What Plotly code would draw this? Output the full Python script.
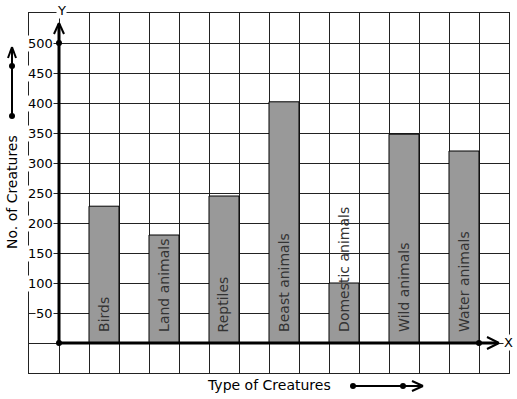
import plotly.graph_objects as go

categories = ["Birds", "Land animals", "Reptiles", "Beast animals",
              "Domestic animals", "Wild animals", "Water animals"]
values = [228, 180, 245, 402, 100, 348, 320]
positions = [1.5, 3.5, 5.5, 7.5, 9.5, 11.5, 13.5]
ytick_vals = [50, 100, 150, 200, 250, 300, 350, 400, 450, 500]
ytick_text = ["50", "100", "150", "200", "250", "300", "350", "400", "450", "500"]

W, H = 517, 399
L, R, T, B = 29, 8, 13, 26
PW, PH = W - L - R, H - T - B
FONT = "DejaVu Sans"


def px(x):
    return (x - L) / PW


def py(y):
    return (H - B - y) / PH


fig = go.Figure()
fig.add_trace(go.Bar(
    x=positions, y=values, width=1,
    marker=dict(color="#999999", line=dict(color="#000000", width=1)),
    hoverinfo="skip", showlegend=False,
))

shapes = []
annotations = []

# axes (bold)
shapes.append(dict(type="line", xref="x", yref="y", x0=0, y0=0, x1=14.63, y1=0,
                   line=dict(color="black", width=3), layer="above"))
shapes.append(dict(type="line", xref="x", yref="y", x0=0, y0=0, x1=0, y1=532,
                   line=dict(color="black", width=3), layer="above"))


def vline(x0, y0, x1, y1, w=2):
    shapes.append(dict(type="line", xref="paper", yref="paper",
                       x0=px(x0), y0=py(y0), x1=px(x1), y1=py(y1),
                       line=dict(color="black", width=w), layer="above"))


def dot(cx, cy, r=3):
    shapes.append(dict(type="circle", xref="paper", yref="paper",
                       x0=px(cx - r), x1=px(cx + r), y0=py(cy - r), y1=py(cy + r),
                       fillcolor="black", line=dict(color="black", width=0),
                       layer="above"))


# x-axis arrow head
vline(487, 337, 499, 343)
vline(487, 349, 499, 343)
# y-axis arrow head
vline(54, 34, 59, 23)
vline(64, 34, 59, 23)
# axis dots
dot(59, 343)
dot(59, 43)
dot(479, 343)

# y-title arrow
vline(12, 116, 12, 48)
vline(8, 58, 12, 47)
vline(16, 58, 12, 47)
dot(12, 116)
dot(12, 66)

# x-title arrow
vline(353, 386, 422, 386)
vline(412, 381, 423, 386)
vline(412, 391, 423, 386)
dot(353, 386)
dot(403, 386)

# tick labels
for v, t in zip(ytick_vals, ytick_text):
    annotations.append(dict(xref="x", yref="y", x=-0.17, y=v, text=t,
                            xanchor="right", yanchor="middle", showarrow=False,
                            bgcolor="white", borderpad=0,
                            font=dict(family=FONT, size=13, color="black")))

# bar labels
for xc, name in zip(positions, categories):
    annotations.append(dict(xref="x", yref="y", x=xc - 0.02, y=15, text=name,
                            textangle=-90, xanchor="center", yanchor="bottom",
                            showarrow=False,
                            font=dict(family=FONT, size=14, color="#333333")))


def label(xp, yp, text, angle=0, bg=None, size=14):
    d = dict(xref="paper", yref="paper", x=px(xp), y=py(yp), text=text,
             xanchor="center", yanchor="middle", showarrow=False,
             textangle=angle, borderpad=0,
             font=dict(family=FONT, size=size, color="black"))
    if bg:
        d["bgcolor"] = bg
    annotations.append(d)


label(61, 10, "Y", bg="white", size=13)
label(508, 342, "X", bg="white", size=13)
label(269, 385, "Type of Creatures")
label(12, 192, "No. of Creatures", angle=-90)

fig.update_layout(
    width=W, height=H,
    margin=dict(l=L, r=R, t=T, b=B, pad=0, autoexpand=False),
    paper_bgcolor="white", plot_bgcolor="white",
    shapes=shapes, annotations=annotations,
    xaxis=dict(range=[-1, 15], tick0=0, dtick=1, showticklabels=False,
               showgrid=True, gridcolor="#222222", gridwidth=1, zeroline=False,
               showline=True, mirror=True, linecolor="#222222", linewidth=1,
               ticks="", fixedrange=True),
    yaxis=dict(range=[-50, 550], tick0=0, dtick=50, showticklabels=False,
               showgrid=True, gridcolor="#222222", gridwidth=1, zeroline=False,
               showline=True, mirror=True, linecolor="#222222", linewidth=1,
               ticks="", fixedrange=True),
    font=dict(family=FONT),
    showlegend=False,
)

fig.write_html(
    "out.html",
    config={"displayModeBar": False, "staticPlot": True},
    post_script="document.body.style.margin='0';document.body.style.overflow='hidden';",
)
